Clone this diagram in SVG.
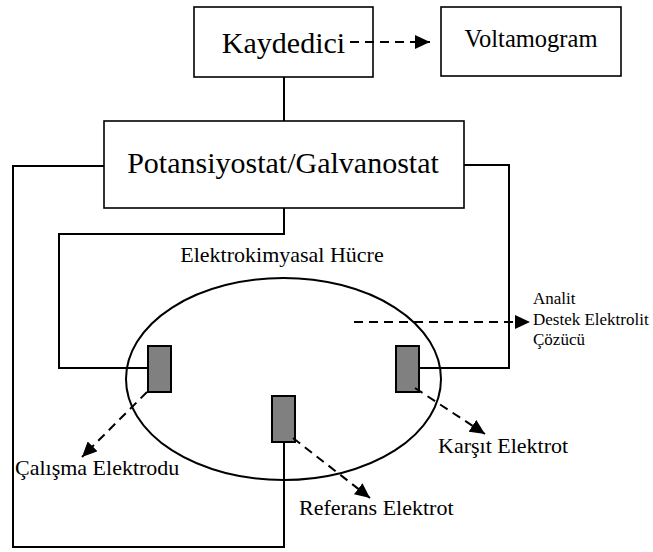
<svg xmlns="http://www.w3.org/2000/svg" width="653" height="552" viewBox="0 0 653 552">
<style>
.box{fill:#fff;stroke:#000;stroke-width:1.6}
.w{fill:none;stroke:#000;stroke-width:2}
.d{fill:none;stroke:#000;stroke-width:2;stroke-dasharray:9 6}
.el{fill:#808080;stroke:#000;stroke-width:2}
text{font-family:"Liberation Serif","Times New Roman",serif;fill:#000}
</style>
<defs>
<marker id="ah" markerUnits="userSpaceOnUse" markerWidth="16" markerHeight="14" refX="15" refY="7" orient="auto">
<path d="M0,0 L15,7 L0,14 Z" fill="#000"/>
</marker>
</defs>
<rect width="653" height="552" fill="#fff"/>
<g id="kaydedici">
<rect class="box" x="194" y="7" width="179" height="70"/>
<text x="283.5" y="53" font-size="30" text-anchor="middle" font-family="Liberation Serif, serif">Kaydedici</text>
</g>
<g id="voltamogram">
<rect class="box" x="441" y="7" width="180" height="69"/>
<text x="531" y="47" font-size="24.5" text-anchor="middle" font-family="Liberation Serif, serif">Voltamogram</text>
</g>
<g id="potansiyostat">
<rect class="box" x="104" y="121" width="360" height="87"/>
<text x="283" y="173" font-size="30" text-anchor="middle" font-family="Liberation Serif, serif">Potansiyostat/Galvanostat</text>
</g>
<g id="hucre">
<text x="282" y="262" font-size="22" text-anchor="middle" font-family="Liberation Serif, serif">Elektrokimyasal Hücre</text>
<ellipse cx="283.5" cy="379" rx="157.5" ry="101" fill="none" stroke="#000" stroke-width="2"/>
</g>
<g id="calisma">
<rect class="el" x="148" y="346" width="23" height="46"/>
<text x="15" y="475" font-size="22" font-family="Liberation Serif, serif">Çalışma Elektrodu</text>
</g>
<g id="referans">
<rect class="el" x="272" y="396" width="23" height="46"/>
<text x="299" y="515" font-size="22" font-family="Liberation Serif, serif">Referans Elektrot</text>
</g>
<g id="karsit">
<rect class="el" x="396" y="346" width="23" height="46"/>
<text x="438" y="453" font-size="22" font-family="Liberation Serif, serif">Karşıt Elektrot</text>
</g>
<g id="cozelti">
<text x="533" y="304" font-size="17" font-family="Liberation Serif, serif">Analit</text>
<text x="533" y="325" font-size="17" font-family="Liberation Serif, serif">Destek Elektrolit</text>
<text x="533" y="345" font-size="17" font-family="Liberation Serif, serif">Çözücü</text>
</g>
<g id="connectors">
<path class="w" d="M284,77 V121"/>
<path class="w" d="M104,166 H13 V547 H284 V442"/>
<path class="w" d="M464,165 H509 V368 H419"/>
<path class="w" d="M284,208 V234 H59 V368 H148"/>
<path class="d" d="M350,42 H430" marker-end="url(#ah)"/>
<path class="d" d="M354,322 H530" marker-end="url(#ah)"/>
<path class="d" d="M147,392 L82,457" marker-end="url(#ah)"/>
<path class="d" d="M293,438 L370,498" marker-end="url(#ah)"/>
<path class="d" d="M415,388 L485,434" marker-end="url(#ah)"/>
</g>
</svg>
